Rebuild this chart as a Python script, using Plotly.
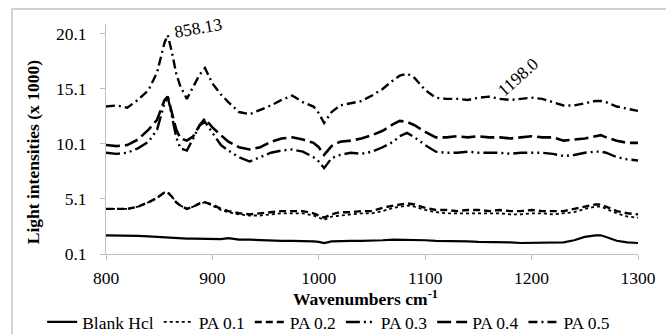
import plotly.graph_objects as go

wavenumbers = [800, 810, 820, 830, 840, 848, 855, 858, 862, 866, 870, 876, 882, 888, 893, 900,
               908, 915, 925, 935, 945, 955, 965, 975, 985, 995, 1000, 1005, 1012, 1020, 1030,
               1040, 1050, 1060, 1070, 1076, 1083, 1090, 1100, 1110, 1120, 1130, 1140, 1150, 1160,
               1170, 1180, 1190, 1200, 1210, 1220, 1230, 1240, 1250, 1260, 1265, 1270, 1280, 1290, 1300]

blank_hcl = [1.8, 1.8, 1.8, 1.75, 1.7, 1.65, 1.6, 1.6, 1.6, 1.55, 1.55, 1.5, 1.5, 1.5, 1.45, 1.45,
             1.45, 1.55, 1.4, 1.4, 1.35, 1.35, 1.3, 1.3, 1.3, 1.25, 1.2, 1.1, 1.25, 1.3, 1.3,
             1.3, 1.3, 1.35, 1.4, 1.4, 1.4, 1.35, 1.35, 1.3, 1.3, 1.25, 1.25, 1.2, 1.2,
             1.15, 1.15, 1.1, 1.1, 1.1, 1.1, 1.15, 1.35, 1.65, 1.8, 1.8, 1.65, 1.3, 1.15, 1.1]

pa_01 = [4.2, 4.2, 4.2, 4.4, 4.8, 5.2, 5.7, 5.7, 5.3, 4.8, 4.5, 4.2, 4.4, 4.7, 4.8, 4.5,
         4.1, 3.9, 3.7, 3.6, 3.6, 3.7, 3.8, 3.8, 3.8, 3.6, 3.4, 3.2, 3.5, 3.6, 3.7,
         3.8, 3.8, 4.0, 4.3, 4.4, 4.5, 4.4, 4.1, 3.9, 3.8, 3.8, 3.8, 3.8, 3.8,
         3.8, 3.7, 3.7, 3.8, 3.8, 3.7, 3.8, 3.9, 4.2, 4.4, 4.4, 4.2, 3.8, 3.5, 3.4]

pa_02 = [4.2, 4.2, 4.2, 4.4, 4.8, 5.2, 5.7, 5.7, 5.3, 4.8, 4.5, 4.2, 4.4, 4.7, 4.8, 4.6,
         4.2, 4.0, 3.8, 3.7, 3.8, 3.9, 4.0, 4.0, 4.0, 3.8, 3.6, 3.4, 3.7, 3.9, 3.9,
         4.0, 4.0, 4.3, 4.5, 4.6, 4.7, 4.6, 4.3, 4.1, 4.1, 4.0, 4.1, 4.1, 4.0,
         4.1, 4.0, 4.0, 4.1, 4.0, 4.0, 4.0, 4.2, 4.4, 4.6, 4.6, 4.4, 4.0, 3.8, 3.7]

pa_03 = [9.3, 9.2, 9.3, 9.7, 10.3, 11.4, 13.8, 14.4, 12.6, 10.7, 9.7, 9.5, 10.6, 11.8, 12.1, 11.1,
         10.0, 9.5, 8.9, 8.5, 8.9, 9.3, 9.5, 9.6, 9.4, 8.9, 8.5, 7.9, 8.8, 9.1, 9.3,
         9.2, 9.4, 9.8, 10.3, 10.8, 11.1, 10.7, 10.0, 9.4, 9.3, 9.3, 9.4, 9.3, 9.3,
         9.3, 9.2, 9.3, 9.3, 9.3, 9.2, 9.0, 9.1, 9.3, 9.4, 9.4, 9.3, 8.9, 8.7, 8.6]

pa_04 = [10.0, 9.9, 10.0, 10.5, 11.4, 12.3, 14.1, 14.4, 12.9, 11.4, 10.6, 10.4, 10.8, 11.8, 12.4, 11.6,
         10.9, 10.3, 9.8, 9.6, 9.8, 10.3, 10.6, 10.7, 10.5, 10.2, 9.8, 9.1, 9.9, 10.3, 10.4,
         10.6, 10.9, 11.3, 11.9, 12.2, 12.1, 11.8, 11.2, 10.7, 10.7, 10.8, 10.7, 10.8, 10.7,
         10.7, 10.6, 10.7, 10.8, 10.7, 10.7, 10.4, 10.5, 10.6, 10.8, 10.9, 10.7, 10.4, 10.2, 10.2]

pa_05 = [13.5, 13.6, 13.4, 14.1, 15.0, 16.6, 19.3, 20.0, 18.4, 16.5, 15.3, 14.2, 15.3, 16.4, 17.0, 15.6,
         14.6, 13.9, 13.0, 12.8, 13.2, 13.6, 14.1, 14.5, 13.9, 13.5, 12.9, 12.0, 13.0, 13.6, 13.8,
         14.0, 14.5, 15.1, 15.9, 16.3, 16.5, 16.1, 15.0, 14.3, 14.2, 14.2, 14.1, 14.3, 14.4,
         14.2, 14.1, 14.2, 14.3, 14.2, 13.9, 13.6, 13.6, 13.8, 14.0, 14.0, 13.9, 13.5, 13.3, 13.1]

series_names = ["Blank Hcl", "PA 0.1", "PA 0.2", "PA 0.3", "PA 0.4", "PA 0.5"]
x_ticks = [800, 900, 1000, 1100, 1200, 1300]
y_ticks = [0.1, 5.1, 10.1, 15.1, 20.1]
y_tick_text = ["0.1", "5.1", "10.1", "15.1", "20.1"]
peak_labels = ["858.13", "1198.0"]

FONT = "Liberation Serif"
FS = 17.5
series = [blank_hcl, pa_01, pa_02, pa_03, pa_04, pa_05]
dashes = ["solid", "dot", "7px,4px", "14px,4px,2px,4px,2px,4px", "14px,5px", "9px,4px,2px,4px"]
widths = [2.2, 1.8, 2.4, 2.4, 2.6, 2.4]

fig = go.Figure()
for name, vals, d, w in zip(series_names, series, dashes, widths):
    fig.add_trace(go.Scatter(x=wavenumbers, y=vals, mode="lines", name=name,
                             line=dict(color="black", width=w, dash=d)))

fig.update_layout(
    width=666, height=334,
    margin=dict(l=106, r=28, t=24, b=80, autoexpand=False),
    paper_bgcolor="white", plot_bgcolor="white",
    font=dict(family=FONT, color="black", size=FS),
    showlegend=True,
    legend=dict(orientation="h", x=-0.12, xanchor="left", y=-0.296, yanchor="middle",
                font=dict(size=FS, family=FONT), itemwidth=30, tracegroupgap=0,
                bgcolor="rgba(0,0,0,0)"),
    xaxis=dict(range=[800, 1300], tickvals=x_ticks, showgrid=False, zeroline=False,
               showline=True, linecolor="#bfbfbf", linewidth=1, ticks="outside",
               ticklen=5, tickcolor="#bfbfbf", tickfont=dict(size=FS, family=FONT),
               ticklabelstandoff=3),
    yaxis=dict(range=[0.1, 21.0], tickvals=y_ticks, ticktext=y_tick_text, showgrid=False,
               zeroline=False, showline=True, linecolor="#bfbfbf", linewidth=1,
               ticks="outside", ticklen=5, tickcolor="#bfbfbf",
               tickfont=dict(size=FS, family=FONT), ticklabelstandoff=10),
    shapes=[dict(type="rect", xref="paper", yref="paper", x0=-0.1767, x1=1.07,
                 y0=-0.38, y1=1.065, line=dict(color="#c4c4c4", width=1.5),
                 fillcolor="rgba(0,0,0,0)", layer="above")],
    annotations=[
        dict(text="<b>Light intensities (x 1000)</b>", xref="paper", yref="paper",
             x=-0.137, y=0.443, textangle=-90, showarrow=False,
             font=dict(size=FS, family=FONT), xanchor="center", yanchor="middle"),
        dict(text="<b>Wavenumbers cm<sup>-1</sup></b>", xref="paper", yref="paper",
             x=0.487, y=-0.191, showarrow=False, font=dict(size=FS, family=FONT),
             xanchor="center", yanchor="middle"),
        dict(text=peak_labels[0], xref="paper", yref="paper", x=0.173, y=0.983,
             showarrow=False, textangle=-10, font=dict(size=FS, family=FONT),
             xanchor="center", yanchor="middle"),
        dict(text=peak_labels[1], xref="paper", yref="paper", x=0.774, y=0.770,
             showarrow=False, textangle=-42, font=dict(size=FS, family=FONT),
             xanchor="center", yanchor="middle"),
    ],
)

fig.write_html("out.html", config={"displayModeBar": False},
               post_script="document.body.style.margin='0';document.body.style.padding='0';")
